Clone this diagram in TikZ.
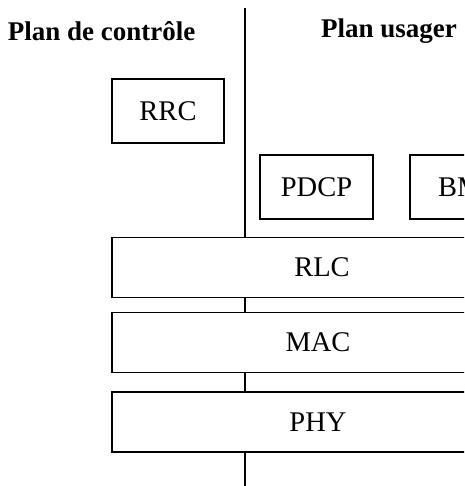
\documentclass[tikz,border=0pt]{standalone}
\usepackage{fontspec}
\setmainfont{Liberation Serif}
\begin{document}
\begin{tikzpicture}[x=1pt,y=-1pt,
		box/.style={draw,line width=1.6pt,fill=white,inner sep=0pt,font=\fontsize{28.5}{32}\selectfont},
		layer/.style={box,minimum width=412pt,minimum height=60pt},
		entity/.style={box,minimum width=113pt,minimum height=64pt},
		plane/.style={font=\fontsize{27}{30}\selectfont\bfseries}]
		\useasboundingbox (0,0) rectangle (464,486);
		\clip (0,0) rectangle (464,486);
		% separation des deux plans
		\coordinate (top) at (245,8);
		\coordinate (bottom) at (245,486);
		\draw[line width=1.6pt] (top) -- (bottom);
		\node[plane] (ctrl) at (101.5,31) {Plan de contr\^ole};
		\node[plane] (user) at (389,31) {Plan usager};
		% entites
		\node[entity,minimum width=112pt] (rrc) at (168,111) {RRC};
		\node[entity] (pdcp) at (316.5,187) {PDCP};
		\node[entity,text width=113pt,align=left] (bm) at (466.5,187) {\hspace*{28pt}BM};
		% couches
		\node[layer,minimum width=420pt] (rlc) at (322,267.5) {RLC};
		\node[layer] (mac) at (318,342.5) {MAC};
		\node[layer] (phy) at (318,422) {PHY};
		\end{tikzpicture}
\end{document}
